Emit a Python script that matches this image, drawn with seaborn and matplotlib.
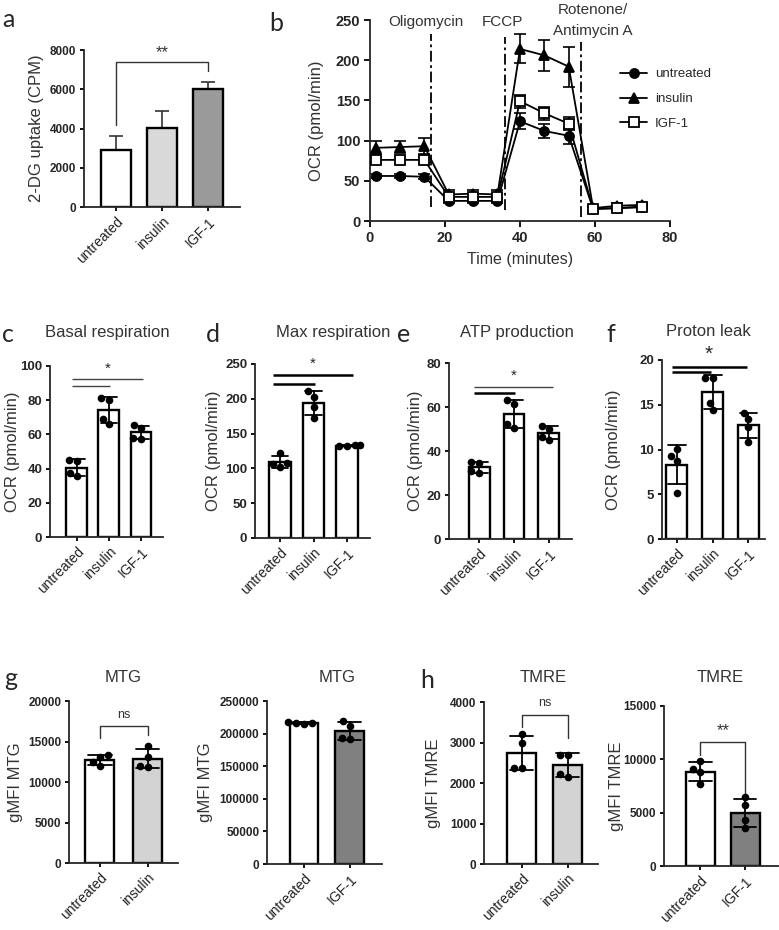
import numpy as np
import pandas as pd
import matplotlib
matplotlib.use("Agg")
import matplotlib.pyplot as plt
import seaborn as sns

W, H = 779, 930

# --- data ---
groups3 = ["untreated", "insulin", "IGF-1"]
groups_ins = ["untreated", "insulin"]
groups_igf = ["untreated", "IGF-1"]

# a: 2-DG uptake, mean + SEM (upper only)
dg_mean = [2900, 4050, 6000]
dg_sem = [700, 850, 350]

# b: Seahorse trace
time_min = [1.5, 8, 14.5, 21, 27.5, 34, 40, 46.5, 53, 59.5, 66, 72.5]
ocr_untreated = [56, 56, 55, 25, 25, 25, 124, 112, 106, 15, 16, 18]
ocr_untreated_err = [3, 3, 3, 3, 3, 3, 10, 9, 10, 2, 2, 2]
ocr_insulin = [91, 92, 93, 33, 34, 33, 214, 206, 192, 16, 19, 20]
ocr_insulin_err = [8, 8, 10, 5, 5, 5, 18, 19, 25, 3, 3, 3]
ocr_igf = [76, 76, 76, 30, 30, 30, 149, 134, 121, 15, 16, 17]
ocr_igf_err = [4, 4, 4, 4, 4, 4, 8, 8, 8, 2, 2, 2]
injections = [16.2, 36.0, 56.3]

# c-f: replicate values per group
basal = {"untreated": [44.8, 44.5, 37.5, 35.5],
         "insulin": [81, 80, 69, 66],
         "IGF-1": [65.5, 63.5, 58, 57.5]}
maxresp = {"untreated": [122, 108, 107, 102],
           "insulin": [211, 203, 188, 173],
           "IGF-1": [133, 133, 132, 132.5]}
atp = {"untreated": [35, 34.5, 31, 30],
       "insulin": [63, 61.5, 52.5, 50.5],
       "IGF-1": [51.5, 50, 46.5, 45]}
leak = {"untreated": [10.1, 9.3, 8.7, 5.1],
        "insulin": [18.0, 18.0, 15.2, 14.4],
        "IGF-1": [14.1, 13.4, 12.5, 10.8]}

# g, h: flow cytometry
mtg_ins = {"untreated": [13300, 13100, 12500, 12000],
           "insulin": [14400, 13100, 12000, 11900]}
mtg_igf = {"untreated": [218000, 216500, 215500, 214500],
           "IGF-1": [219000, 212000, 193000, 191000]}
tmre_ins = {"untreated": [3220, 2990, 2380, 2380],
            "insulin": [2700, 2690, 2220, 2160]}
tmre_igf = {"untreated": [9800, 9100, 8800, 7700],
            "IGF-1": [6440, 5720, 4310, 3530]}

sns.set_style("ticks")
plt.rcParams["font.family"] = ["Liberation Sans", "DejaVu Sans"]
plt.rcParams["axes.linewidth"] = 1.3

fig = plt.figure(figsize=(W / 100, H / 100), dpi=100)
LABEL_C = "#333333"


def px_axes(l, r, t, b):
    ax = fig.add_axes([l / W, 1 - b / H, (r - l) / W, (b - t) / H])
    ax._px = (l, r)
    return ax


def ftext(x, y, s, **kw):
    fig.text(x / W, 1 - y / H, s, **kw)


def place_ylabel(ax, text, x_px):
    # x_px: right edge of the rotated label in figure pixels
    l, r = ax._px
    ax.set_ylabel(text, fontsize=12, color=LABEL_C)
    ax.yaxis.set_label_coords((x_px - l) / (r - l), 0.5)


def style_axes(ax, yticks, ysize, order=None, xsize=10):
    sns.despine(ax=ax)
    ax.tick_params(width=1.3, length=3, pad=2.5, color="black")
    ax.set_yticks(yticks)
    ax.set_yticklabels([str(t) for t in yticks], fontweight="bold", fontsize=ysize)
    if order is not None:
        ax.set_xticks(range(len(order)))
        ax.set_xticklabels(order, rotation=45, ha="right", rotation_mode="anchor",
                           fontsize=xsize, color="#222222")
    ax.set_xlabel("")


def bar_panel(ax, vals, order, colors, width, ylim, xlim, yticks, ylabel, label_x, ysize=9.5):
    df = pd.DataFrame([(g, v) for g in order for v in vals[g]], columns=["group", "value"])
    sns.barplot(data=df, x="group", y="value", hue="group", order=order, hue_order=order,
                palette=colors, legend=False, errorbar="sd", capsize=0.5, width=width,
                edgecolor="black", linewidth=1.7,
                err_kws={"color": "black", "linewidth": 1.3}, ax=ax)
    sns.swarmplot(data=df, x="group", y="value", order=order, color="black",
                  size=5.5, ax=ax, zorder=5)
    ax.set_xlim(*xlim)
    ax.set_ylim(*ylim)
    style_axes(ax, yticks, ysize, order)
    place_ylabel(ax, ylabel, label_x)


def sig_lines(ax, lines, star, star_xy, star_size=11):
    for x0, x1, y, lw, c in lines:
        ax.plot([x0, x1], [y, y], color=c, lw=lw, clip_on=False, solid_capstyle="butt")
    ax.text(star_xy[0], star_xy[1], star, ha="center", va="center",
            fontsize=star_size, clip_on=False)


def bracket(ax, x0, x1, ytop, yl, yr, label, label_y, size=9):
    ax.plot([x0, x0, x1, x1], [yl, ytop, ytop, yr], color="#333333", lw=1.0, clip_on=False)
    ax.text((x0 + x1) / 2, label_y, label, ha="center", va="center", fontsize=size,
            color="#333333", clip_on=False)


# ---------------- a ----------------
ax = px_axes(84, 240, 50, 207)
dfa = pd.DataFrame({"group": groups3, "value": dg_mean})
sns.barplot(data=dfa, x="group", y="value", hue="group", order=groups3,
            palette={"untreated": "white", "insulin": "#d9d9d9", "IGF-1": "#9a9a9a"},
            legend=False, width=0.65, edgecolor="black", linewidth=1.7, ax=ax)
ax.errorbar(range(3), dg_mean, yerr=[np.zeros(3), dg_sem], fmt="none",
            ecolor="#333333", elinewidth=1.2, capsize=5, capthick=1.2, zorder=0)
ax.set_xlim(-0.7, 2.7)
ax.set_ylim(0, 8000)
style_axes(ax, [0, 2000, 4000, 6000, 8000], 8.5, groups3)
place_ylabel(ax, "2-DG uptake (CPM)", 44)
bracket(ax, 0, 2, 7400, 4170, 6950, "**", 7850, size=12)

# ---------------- b ----------------
ax = px_axes(370, 670, 20, 221)
series = [("untreated", ocr_untreated, ocr_untreated_err, "o", "black", 6.5),
          ("insulin", ocr_insulin, ocr_insulin_err, "^", "black", 7.5),
          ("IGF-1", ocr_igf, ocr_igf_err, "s", "white", 7.5)]
for name, y, e, m, fc, ms in series:
    ax.errorbar(time_min, y, yerr=e, fmt="none", ecolor="black", elinewidth=1.2,
                capsize=4.5, capthick=1.2, zorder=2)
    sns.lineplot(x=time_min, y=y, marker=m, markersize=ms, markerfacecolor=fc,
                 markeredgecolor="black", markeredgewidth=1.3, color="black", lw=1.3,
                 label=name, ax=ax, zorder=3)
for xi, (y0, y1) in zip(injections, [(18, 233), (14, 229), (5, 223)]):
    ax.plot([xi, xi], [y0, y1], color="black", lw=1.3, dashes=[6, 2, 1.5, 2], zorder=1)
ax.set_xlim(0, 80)
ax.set_ylim(0, 250)
sns.despine(ax=ax)
ax.tick_params(width=1.3, length=4, pad=3, color="black")
ax.set_xticks([0, 20, 40, 60, 80])
ax.set_xticklabels(["0", "20", "40", "60", "80"], fontweight="bold", fontsize=10.5)
ax.set_yticks([0, 50, 100, 150, 200, 250])
ax.set_yticklabels(["0", "50", "100", "150", "200", "250"], fontweight="bold", fontsize=10.5)
ax.set_xlabel("Time (minutes)", fontsize=11.5, color=LABEL_C, labelpad=5)
place_ylabel(ax, "OCR (pmol/min)", 324)
ax.text(15, 248, "Oligomycin", ha="center", va="center", fontsize=11, color="#333333", clip_on=False)
ax.text(35.3, 248, "FCCP", ha="center", va="center", fontsize=11, color="#333333", clip_on=False)
ax.text(59.5, 262, "Rotenone/", ha="center", va="center", fontsize=11, color="#333333", clip_on=False)
ax.text(59.5, 236, "Antimycin A", ha="center", va="center", fontsize=11, color="#333333", clip_on=False)
ax.legend(loc="upper left", bbox_to_anchor=(0.835, 0.76), frameon=False, fontsize=9.5,
          handlelength=2.0, handletextpad=0.6, labelspacing=0.95, borderpad=0, borderaxespad=0)

# ---------------- c-f ----------------
white3 = {g: "white" for g in groups3}

ax = px_axes(50, 163, 366, 537)
bar_panel(ax, basal, groups3, white3, 0.65, (0, 100), (-0.84, 2.69),
          [0, 20, 40, 60, 80, 100], "OCR (pmol/min)", 20)
sig_lines(ax, [(-0.15, 2.08, 92.6, 1.0, "#444444"), (-0.15, 1.04, 88.2, 1.0, "#444444")],
          "*", (0.95, 98.5))

ax = px_axes(255, 370, 364, 538)
bar_panel(ax, maxresp, groups3, white3, 0.65, (0, 250), (-0.75, 2.69),
          [0, 50, 100, 150, 200, 250], "OCR (pmol/min)", 221)
sig_lines(ax, [(-0.2, 2.17, 234, 1.8, "black"), (-0.2, 1.04, 221, 1.8, "black")],
          "*", (0.99, 251))

ax = px_axes(449, 572, 363, 539)
bar_panel(ax, atp, groups3, white3, 0.6, (0, 80), (-0.86, 2.66),
          [0, 20, 40, 60, 80], "OCR (pmol/min)", 423)
sig_lines(ax, [(-0.14, 2.12, 69.1, 1.0, "#444444"), (-0.14, 1.03, 66.4, 1.8, "black")],
          "*", (1.0, 74.4))

ax = px_axes(662, 765, 360, 539)
bar_panel(ax, leak, groups3, white3, 0.58, (0, 20), (-0.41, 2.46),
          [0, 5, 10, 15, 20], "OCR (pmol/min)", 621)
sig_lines(ax, [(-0.13, 1.96, 19.2, 1.8, "black"), (-0.13, 0.95, 18.7, 1.8, "black")],
          "*", (0.89, 20.6), star_size=15)

# ---------------- g ----------------
ax = px_axes(69, 178, 701, 863)
bar_panel(ax, mtg_ins, groups_ins, {"untreated": "white", "insulin": "#d3d3d3"}, 0.61,
          (0, 20000), (-0.65, 1.64), [0, 5000, 10000, 15000, 20000], "gMFI MTG", 23,
          ysize=8.5)
bracket(ax, 0, 1, 16900, 15400, 15800, "ns", 18300)

ax = px_axes(267, 382, 701, 864)
bar_panel(ax, mtg_igf, groups_igf, {"untreated": "white", "IGF-1": "#808080"}, 0.63,
          (0, 250000), (-0.81, 1.71), [0, 50000, 100000, 150000, 200000, 250000],
          "gMFI MTG", 213, ysize=8.5)

# ---------------- h ----------------
ax = px_axes(484, 598, 702, 864)
bar_panel(ax, tmre_ins, groups_ins, {"untreated": "white", "insulin": "#d3d3d3"}, 0.64,
          (0, 4000), (-0.82, 1.66), [0, 1000, 2000, 3000, 4000], "gMFI TMRE", 441,
          ysize=8.5)
bracket(ax, 0, 1, 3690, 3380, 3100, "ns", 3980)

ax = px_axes(664, 778, 706, 866)
bar_panel(ax, tmre_igf, groups_igf, {"untreated": "white", "IGF-1": "#808080"}, 0.64,
          (0, 15000), (-0.81, 1.73), [0, 5000, 10000, 15000], "gMFI TMRE", 624,
          ysize=8.5)
bracket(ax, 0, 1, 11600, 10400, 6500, "**", 12650, size=12)

# ---------------- titles and panel letters ----------------
for x, y, s in [(107, 332, "Basal respiration"), (333, 332, "Max respiration"),
                (517, 332, "ATP production"), (708, 332, "Proton leak"),
                (123, 677, "MTG"), (337, 677, "MTG"), (543, 677, "TMRE"), (720, 677, "TMRE")]:
    ftext(x, y, s, ha="center", va="center", fontsize=12, color="#333333")

letter_kw = dict(fontsize=18, family=["Lato", "DejaVu Sans"], va="baseline", ha="left")
for x, y, s in [(2, 27, "a"), (269, 31, "b"), (2, 342, "c"), (206, 342, "d"),
                (397, 342, "e"), (606, 342, "f"), (4, 686, "g"), (420, 688, "h")]:
    ftext(x, y, s, **letter_kw)

fig.savefig("out.png", dpi=100)
